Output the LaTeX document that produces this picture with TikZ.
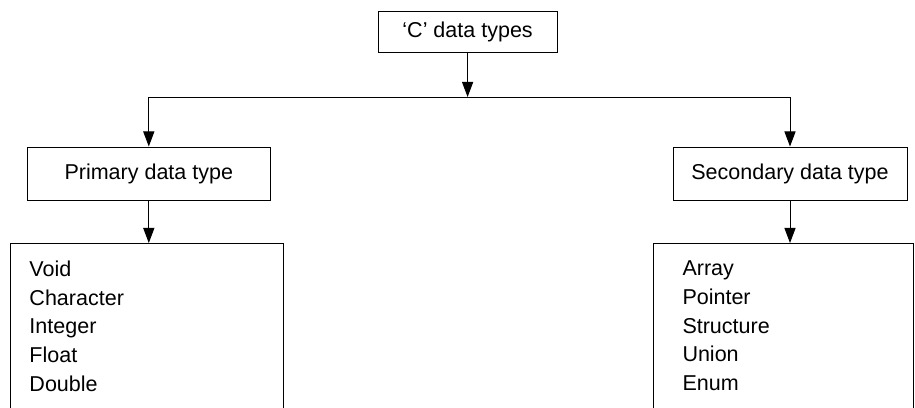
\documentclass[tikz,border=0pt]{standalone}
\usepackage{fontspec}
\setmainfont{Liberation Sans}
\usepackage{tikz}
\usetikzlibrary{positioning, arrows.meta}

\begin{document}
\begin{tikzpicture}[
    font=\fontsize{15.3}{20.5}\selectfont,
    box/.style={draw, line width=0.7pt, inner sep=0pt},
    listbox/.style={draw, line width=0.7pt, anchor=north west, align=left, inner ysep=0.43cm},
    arrow/.style={line width=0.7pt, -{Triangle[length=3.8mm, width=2.8mm]}}
    ]
    \useasboundingbox (0,0) rectangle (22.875,-10.175);
    \clip (0,0) rectangle (22.875,-10.175);

    % heading and the two kinds
    \node[box, minimum width=4.475cm, minimum height=1.025cm] (ctype) at (11.69,-0.81) {`C' data types};
    \node[box, minimum width=6.075cm, minimum height=1.325cm] (prim) at (3.72,-4.3375) {Primary data type};
    \node[box, minimum width=5.85cm, minimum height=1.325cm] (sec) at (19.75,-4.3375) {Secondary data type};
    \coordinate (bus) at (11.69,-2.425);

    % lists of members
    \node[listbox, inner xsep=0.475cm, text width=5.875cm] (plist) at (0.25,-6.075)
        {Void\\Character\\Integer\\Float\\Double};
    \node[listbox, inner xsep=0.725cm, text width=5.05cm] (slist) at (16.325,-6.075)
        {Array\\Pointer\\Structure\\Union\\Enum};

    \draw[arrow] (ctype.south) -- (bus);
    \draw[line width=0.7pt] (prim.north |- bus) -- (sec.north |- bus);
    \draw[arrow] (prim.north |- bus) -- (prim.north);
    \draw[arrow] (sec.north |- bus) -- (sec.north);
    \draw[arrow] (prim.south) -- (prim.south |- plist.north);
    \draw[arrow] (sec.south) -- (sec.south |- slist.north);
\end{tikzpicture}
\end{document}
